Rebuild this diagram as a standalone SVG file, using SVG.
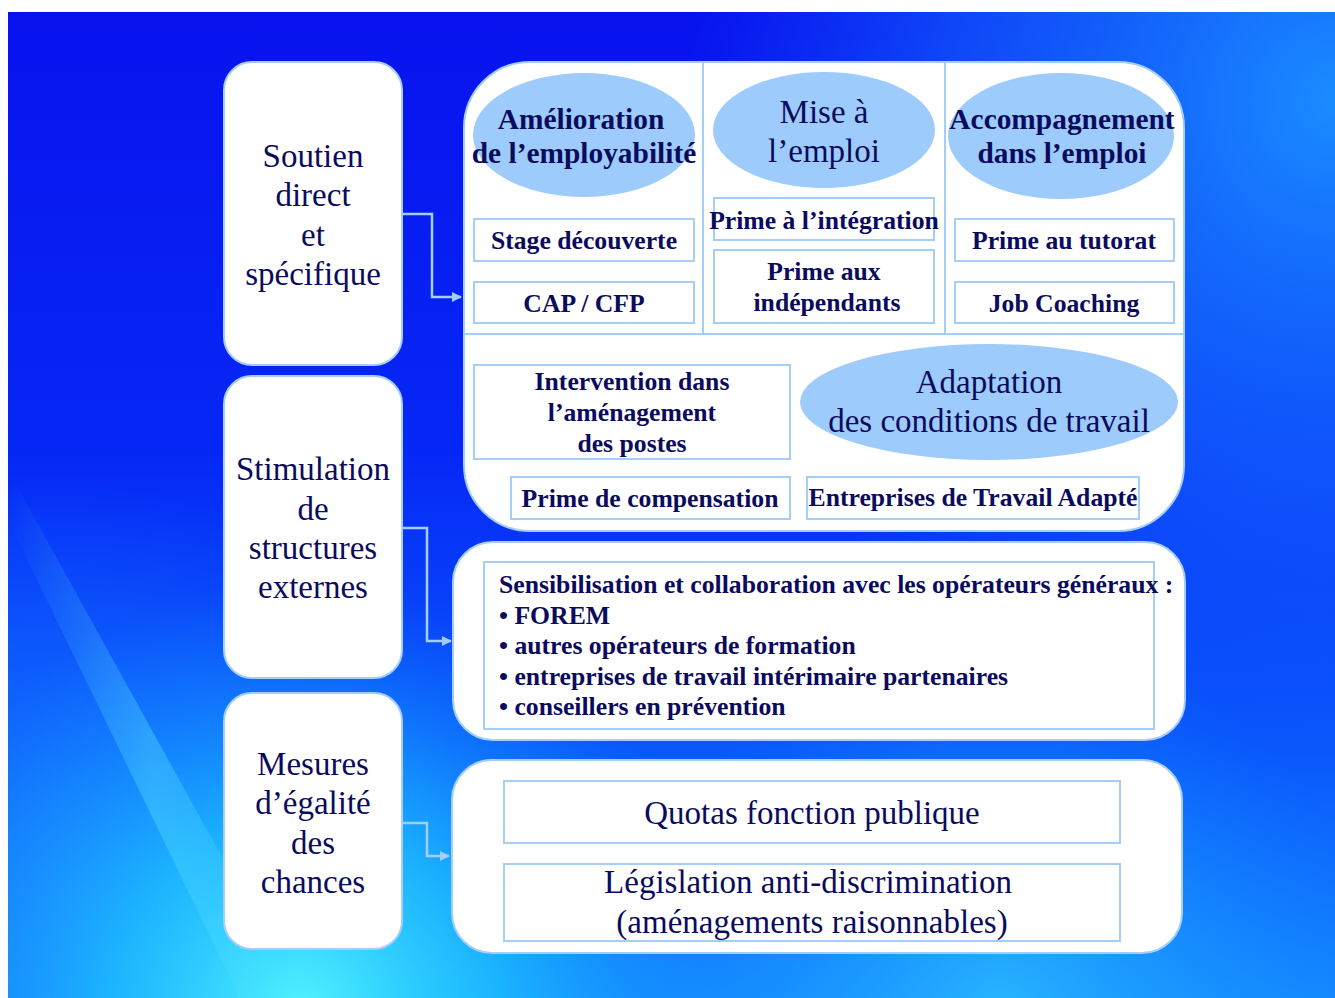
<svg xmlns="http://www.w3.org/2000/svg" width="1335" height="998" viewBox="0 0 1335 998">
<defs>
<linearGradient id="bg" x1="0" y1="0" x2="0" y2="1">
<stop offset="0" stop-color="#0812ee"/>
<stop offset="0.45" stop-color="#0628f6"/>
<stop offset="0.75" stop-color="#0a58fc"/>
<stop offset="1" stop-color="#1488ff"/>
</linearGradient>
<radialGradient id="tr" cx="1335" cy="100" r="650" gradientUnits="userSpaceOnUse">
<stop offset="0" stop-color="#1a8cff" stop-opacity="1"/>
<stop offset="0.6" stop-color="#1470ff" stop-opacity="0.55"/>
<stop offset="1" stop-color="#1060ff" stop-opacity="0"/>
</radialGradient>
<radialGradient id="bl" cx="300" cy="1010" r="430" gradientUnits="userSpaceOnUse">
<stop offset="0" stop-color="#50f4ff" stop-opacity="1"/>
<stop offset="0.45" stop-color="#20d0ff" stop-opacity="0.65"/>
<stop offset="1" stop-color="#1090ff" stop-opacity="0"/>
</radialGradient>
<radialGradient id="lf" cx="60" cy="900" r="420" gradientUnits="userSpaceOnUse">
<stop offset="0" stop-color="#1a7cff" stop-opacity="0.9"/>
<stop offset="1" stop-color="#1070ff" stop-opacity="0"/>
</radialGradient>
<radialGradient id="br" cx="1000" cy="1010" r="380" gradientUnits="userSpaceOnUse">
<stop offset="0" stop-color="#30c8ff" stop-opacity="0.7"/>
<stop offset="1" stop-color="#1090ff" stop-opacity="0"/>
</radialGradient>
<linearGradient id="streak" x1="0" y1="0" x2="1" y2="0">
<stop offset="0" stop-color="#60e0ff" stop-opacity="0"/>
<stop offset="0.5" stop-color="#60e8ff" stop-opacity="0.35"/>
<stop offset="1" stop-color="#60e0ff" stop-opacity="0"/>
</linearGradient>
<marker id="arr" viewBox="0 0 10 10" refX="9" refY="5" markerWidth="4" markerHeight="4" orient="auto" markerUnits="strokeWidth">
<path d="M0,0 L10,5 L0,10 z" fill="#a4cdf9"/>
</marker>
<style>
.box{fill:#ffffff;stroke:#a4cdf9;stroke-width:2}
.cell{fill:#ffffff;stroke:#a4cdf9;stroke-width:2}
.ell{fill:#9dcbfb}
.div{stroke:#a4cdf9;stroke-width:2;fill:none}
.conn{stroke:#a4cdf9;stroke-width:2.5;fill:none}
text{fill:#0b0b5e;font-family:"Liberation Serif","Times New Roman",serif;text-anchor:middle}
.big{font-size:33px}
.hb{font-size:29.4px;font-weight:bold}
.sb{font-size:25.7px;font-weight:bold}
.lst{font-size:25.7px;font-weight:bold;text-anchor:start}
</style>
</defs>
<rect x="0" y="0" width="1335" height="998" fill="#ffffff"/>
<g id="background">
<rect x="8" y="12" width="1327" height="986" fill="url(#bg)"/>
<rect x="8" y="12" width="1327" height="986" fill="url(#tr)"/>
<rect x="8" y="12" width="1327" height="986" fill="url(#lf)"/>
<rect x="8" y="12" width="1327" height="986" fill="url(#br)"/>
<rect x="8" y="12" width="1327" height="986" fill="url(#bl)"/>
<polygon points="8,470 8,520 240,998 300,998" fill="url(#streak)"/>
</g>
<g id="connectors">
<polyline class="conn" points="402,214 432,214 432,297 461,297" marker-end="url(#arr)"/>
<polyline class="conn" points="402,528 427,528 427,641 451,641" marker-end="url(#arr)"/>
<polyline class="conn" points="402,823 427,823 427,856 449,856" marker-end="url(#arr)"/>
</g>
<g id="soutien">
<rect class="box" x="224" y="62" width="178" height="303" rx="28"/>
<text class="big" x="313" y="167">Soutien</text>
<text class="big" x="313" y="206">direct</text>
<text class="big" x="313" y="246">et</text>
<text class="big" x="313" y="285">spécifique</text>
</g>
<g id="stimulation">
<rect class="box" x="224" y="376" width="178" height="302" rx="28"/>
<text class="big" x="313" y="480">Stimulation</text>
<text class="big" x="313" y="520">de</text>
<text class="big" x="313" y="559">structures</text>
<text class="big" x="313" y="598">externes</text>
</g>
<g id="mesures">
<rect class="box" x="224" y="693" width="178" height="256" rx="28"/>
<text class="big" x="313" y="775">Mesures</text>
<text class="big" x="313" y="814">d’égalité</text>
<text class="big" x="313" y="854">des</text>
<text class="big" x="313" y="893">chances</text>
</g>
<g id="panel-direct">
<rect class="box" x="464" y="62" width="720" height="469" rx="66"/>
<line class="div" x1="703" y1="63" x2="703" y2="334"/>
<line class="div" x1="945" y1="63" x2="945" y2="334"/>
<line class="div" x1="465" y1="334" x2="1183" y2="334"/>
</g>
<g id="amelioration">
<ellipse class="ell" cx="584" cy="135" rx="111" ry="62"/>
<text class="hb" x="581" y="129">Amélioration</text>
<text class="hb" x="584" y="163">de l’employabilité</text>
</g>
<g id="mise-emploi">
<ellipse class="ell" cx="824" cy="130" rx="111" ry="58"/>
<text class="big" x="824" y="123">Mise à</text>
<text class="big" x="824" y="162">l’emploi</text>
</g>
<g id="accompagnement">
<ellipse class="ell" cx="1061" cy="136" rx="113" ry="63"/>
<text class="hb" x="1062" y="129">Accompagnement</text>
<text class="hb" x="1062" y="163">dans l’emploi</text>
</g>
<g id="stage">
<rect class="cell" x="474" y="219" width="220" height="42"/>
<text class="sb" x="584" y="249">Stage découverte</text>
</g>
<g id="cap">
<rect class="cell" x="474" y="282" width="220" height="41"/>
<text class="sb" x="584" y="312">CAP / CFP</text>
</g>
<g id="prime-integration">
<rect class="cell" x="714" y="198" width="220" height="42"/>
<text class="sb" x="824" y="229">Prime à l’intégration</text>
</g>
<g id="prime-independants">
<rect class="cell" x="714" y="250" width="220" height="73"/>
<text class="sb" x="824" y="280">Prime aux</text>
<text class="sb" x="827" y="311">indépendants</text>
</g>
<g id="tutorat">
<rect class="cell" x="955" y="219" width="219" height="42"/>
<text class="sb" x="1064" y="249">Prime au tutorat</text>
</g>
<g id="job-coaching">
<rect class="cell" x="955" y="282" width="219" height="41"/>
<text class="sb" x="1064" y="312">Job Coaching</text>
</g>
<g id="intervention">
<rect class="cell" x="474" y="365" width="316" height="94"/>
<text class="sb" x="632" y="390">Intervention dans</text>
<text class="sb" x="632" y="421">l’aménagement</text>
<text class="sb" x="632" y="452">des postes</text>
</g>
<g id="adaptation">
<ellipse class="ell" cx="989" cy="402" rx="189" ry="58"/>
<text class="big" x="989" y="393">Adaptation</text>
<text class="big" x="989" y="432">des conditions de travail</text>
</g>
<g id="compensation">
<rect class="cell" x="511" y="477" width="279" height="42"/>
<text class="sb" x="650" y="507">Prime de compensation</text>
</g>
<g id="eta">
<rect class="cell" x="807" y="477" width="332" height="42"/>
<text class="sb" x="973" y="506">Entreprises de Travail Adapté</text>
</g>
<g id="panel-externes">
<rect class="box" x="453" y="542" width="732" height="198" rx="40"/>
<rect class="cell" x="484" y="562" width="670" height="167"/>
<text class="lst" x="499" y="593">Sensibilisation et collaboration avec les opérateurs généraux :</text>
<text class="lst" x="499" y="624">• FOREM</text>
<text class="lst" x="499" y="654">• autres opérateurs de formation</text>
<text class="lst" x="499" y="685">• entreprises de travail intérimaire partenaires</text>
<text class="lst" x="499" y="715">• conseillers en prévention</text>
</g>
<g id="panel-egalite">
<rect class="box" x="452" y="760" width="730" height="193" rx="40"/>
</g>
<g id="quotas">
<rect class="cell" x="504" y="781" width="616" height="62"/>
<text class="big" x="812" y="824">Quotas fonction publique</text>
</g>
<g id="legislation">
<rect class="cell" x="504" y="864" width="616" height="77"/>
<text class="big" x="808" y="893">Législation anti-discrimination</text>
<text class="big" x="812" y="933">(aménagements raisonnables)</text>
</g>
</svg>
